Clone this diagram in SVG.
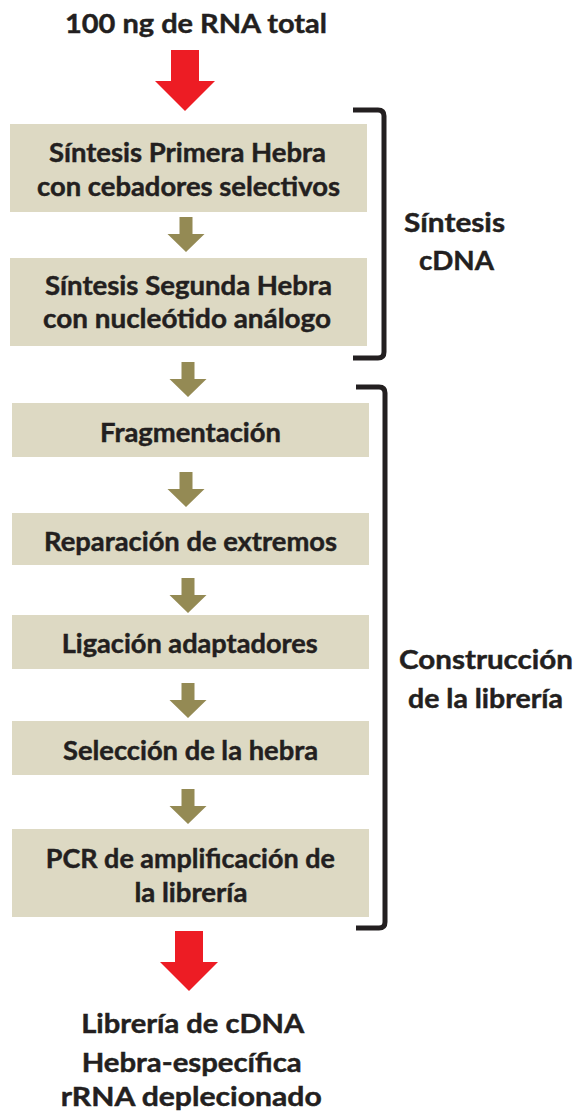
<svg xmlns="http://www.w3.org/2000/svg" xmlns:xlink="http://www.w3.org/1999/xlink" width="576" height="1115" viewBox="0 0 576 1115">
<style>
text{font-family:Lato,"Open Sans","Liberation Sans",sans-serif;font-weight:700;fill:#231f20;stroke:#231f20;stroke-width:0.45;text-anchor:middle;font-size:26px}
.title{font-size:27.5px}
.box{fill:#ddd9c3}
.red{fill:#ed1c24}
.olive{fill:#948a54}
.br{fill:none;stroke:#231f20;stroke-width:5}
</style>
<defs>
<path id="oa" d="M-6.5,0 L6.5,0 L6.5,17 L18.5,17 L0,35 L-18.5,17 L-6.5,17 Z"/>
</defs>
<g id="title"><text class="title" x="196" y="33" textLength="262" lengthAdjust="spacingAndGlyphs">100 ng de RNA total</text></g>
<g id="n1"><rect class="box" x="10" y="124" width="357" height="88"/>
<text x="187.5" y="162" textLength="277" lengthAdjust="spacingAndGlyphs">Síntesis Primera Hebra</text>
<text x="188.5" y="195.5" textLength="303" lengthAdjust="spacingAndGlyphs">con cebadores selectivos</text></g>
<g id="n2"><rect class="box" x="10" y="258" width="357" height="88"/>
<text x="188.5" y="295" textLength="287" lengthAdjust="spacingAndGlyphs">Síntesis Segunda Hebra</text>
<text x="187" y="328" textLength="288" lengthAdjust="spacingAndGlyphs">con nucleótido análogo</text></g>
<g id="n3"><rect class="box" x="12" y="403" width="357" height="54"/>
<text x="190.5" y="441.5" textLength="181" lengthAdjust="spacingAndGlyphs">Fragmentación</text></g>
<g id="n4"><rect class="box" x="12" y="513" width="357" height="52"/>
<text x="190.5" y="550.5" textLength="293" lengthAdjust="spacingAndGlyphs">Reparación de extremos</text></g>
<g id="n5"><rect class="box" x="12" y="615" width="357" height="54"/>
<text x="189.7" y="653" textLength="256" lengthAdjust="spacingAndGlyphs">Ligación adaptadores</text></g>
<g id="n6"><rect class="box" x="12" y="721" width="357" height="54"/>
<text x="190.5" y="760" textLength="255" lengthAdjust="spacingAndGlyphs">Selección de la hebra</text></g>
<g id="n7"><rect class="box" x="12" y="829" width="357" height="88"/>
<text x="190.3" y="868" textLength="289" lengthAdjust="spacingAndGlyphs">PCR de amplificación de</text>
<text x="190.9" y="901.5" textLength="113" lengthAdjust="spacingAndGlyphs">la librería</text></g>
<g id="result">
<text x="192.7" y="1033" textLength="223" lengthAdjust="spacingAndGlyphs">Librería de cDNA</text>
<text x="191.7" y="1071.5" textLength="220" lengthAdjust="spacingAndGlyphs">Hebra-específica</text>
<text x="191.3" y="1106" textLength="261" lengthAdjust="spacingAndGlyphs">rRNA deplecionado</text></g>
<g id="brackets">
<path class="br" d="M353,110 L378,110 Q384,110 384,116 L384,352 Q384,358 378,358 L353,358"/>
<path class="br" d="M356,387 L379,387 Q385,387 385,393 L385,922 Q385,928 379,928 L356,928"/>
</g>
<g id="label-cdna">
<text x="454.5" y="232" textLength="101" lengthAdjust="spacingAndGlyphs">Síntesis</text>
<text x="456.5" y="270" textLength="75" lengthAdjust="spacingAndGlyphs">cDNA</text></g>
<g id="label-lib">
<text x="486" y="669" textLength="174" lengthAdjust="spacingAndGlyphs">Construcción</text>
<text x="485.5" y="708" textLength="155" lengthAdjust="spacingAndGlyphs">de la librería</text></g>
<g id="connectors">
<path class="red" d="M171,50 L199,50 L199,81 L215,81 L185,111 L155,81 L171,81 Z"/>
<use xlink:href="#oa" class="olive" x="186" y="217"/>
<use xlink:href="#oa" class="olive" x="188" y="362"/>
<use xlink:href="#oa" class="olive" x="186" y="472"/>
<use xlink:href="#oa" class="olive" x="188" y="578"/>
<use xlink:href="#oa" class="olive" x="188" y="683"/>
<use xlink:href="#oa" class="olive" x="188" y="789"/>
<path class="red" d="M175,931 L203,931 L203,962 L218,962 L189,991 L160,962 L175,962 Z"/>
</g>
</svg>
